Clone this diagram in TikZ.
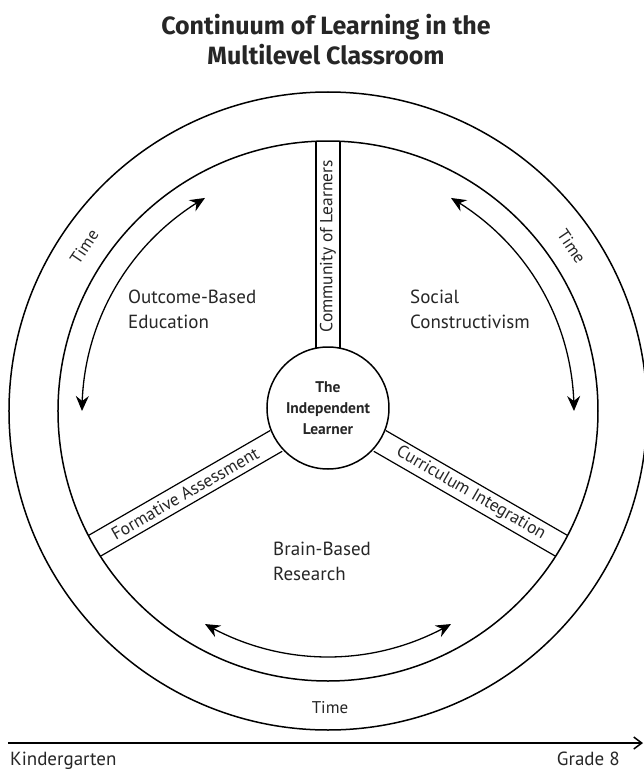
\documentclass[tikz,border=0pt]{standalone}
\usepackage{fontspec}
\setmainfont{PT Sans}
\newfontfamily\titlefont{Fira Sans}
\usetikzlibrary{arrows.meta,bending}
\begin{document}
\begin{tikzpicture}[x=1pt,y=1pt,
  ring/.style={line width=1.5pt},
  spoke/.style={line width=1.2pt},
  lbl/.style={font=\fontsize{19}{19}\selectfont, inner sep=0pt, text=black!85},
  striplbl/.style={font=\fontsize{17.5}{17.5}\selectfont, inner sep=0pt, text=black!85},
  timelbl/.style={font=\fontsize{17}{17}\selectfont, inner sep=0pt, text=black!85},
  axislbl/.style={font=\fontsize{19}{19}\selectfont, inner sep=0pt, text=black!85},
  titlelbl/.style={font=\titlefont\bfseries\fontsize{25}{25}\selectfont, inner sep=0pt, text=black!85, anchor=base},
  cyc/.style={line width=1.3pt, {Stealth[length=15pt,width=13pt,inset=5pt]}-{Stealth[length=15pt,width=13pt,inset=5pt]}},
]
\useasboundingbox (-328,-361) rectangle (316,411);
\fill[white] (-328,-361) rectangle (316,411);
\coordinate (c) at (0,0);
\draw[ring] (c) circle[radius=319];
\draw[ring] (c) circle[radius=270];
\foreach \a in {90,210,330}{
  \begin{scope}[rotate=\a]
    \draw[spoke] (59.8,12) -- (269.7,12);
    \draw[spoke] (59.8,-12) -- (269.7,-12);
  \end{scope}
}
\node[circle, draw, line width=1.5pt, fill=white, minimum size=122pt, inner sep=0pt, align=center, text=black!85,
  font=\bfseries\fontsize{15.5}{21}\selectfont] (learner) at (0,3) {The\\Independent\\Learner};

\node[striplbl, rotate=90] (col) at (90:165) {Community of Learners};
\node[striplbl, rotate=30] (fa) at (210:165) {Formative Assessment};
\node[striplbl, rotate=-30] (ci) at (330:165) {Curriculum Integration};

\node[lbl, anchor=base west] (obe1) at (-200,108) {Outcome-Based};
\node[lbl, anchor=base west] (obe2) at (-200,83) {Education};
\node[lbl, anchor=base west] (sc1) at (82,108) {Social};
\node[lbl, anchor=base west] (sc2) at (82,83) {Constructivism};
\node[lbl, anchor=base west] (bbr1) at (-55,-144) {Brain-Based};
\node[lbl, anchor=base west] (bbr2) at (-55,-169) {Research};

\node[timelbl, rotate=56] (tl) at (146:294) {Time};
\node[timelbl, rotate=-56] (tr) at (34:294) {Time};
\node[timelbl, anchor=base] (tb) at (2,-302) {Time};

\draw[cyc] (120:246) arc[start angle=120,end angle=180,radius=246];
\draw[cyc] (60:246) arc[start angle=60,end angle=0,radius=246];
\draw[cyc] (240:246) arc[start angle=240,end angle=300,radius=246];

\coordinate (k) at (-320,-332);
\coordinate (g) at (315,-332);
\draw[line width=1.5pt, -{Straight Barb[length=8pt,width=12pt]}] (k) -- (g);
\node[axislbl, anchor=base west] (kg) at (-318,-354) {Kindergarten};
\node[axislbl, anchor=base east] (g8) at (292,-354) {Grade 8};

\node[titlelbl] (title1) at (-2,376) {Continuum of Learning in the};
\node[titlelbl] (title2) at (-2,346) {Multilevel Classroom};
\end{tikzpicture}
\end{document}
